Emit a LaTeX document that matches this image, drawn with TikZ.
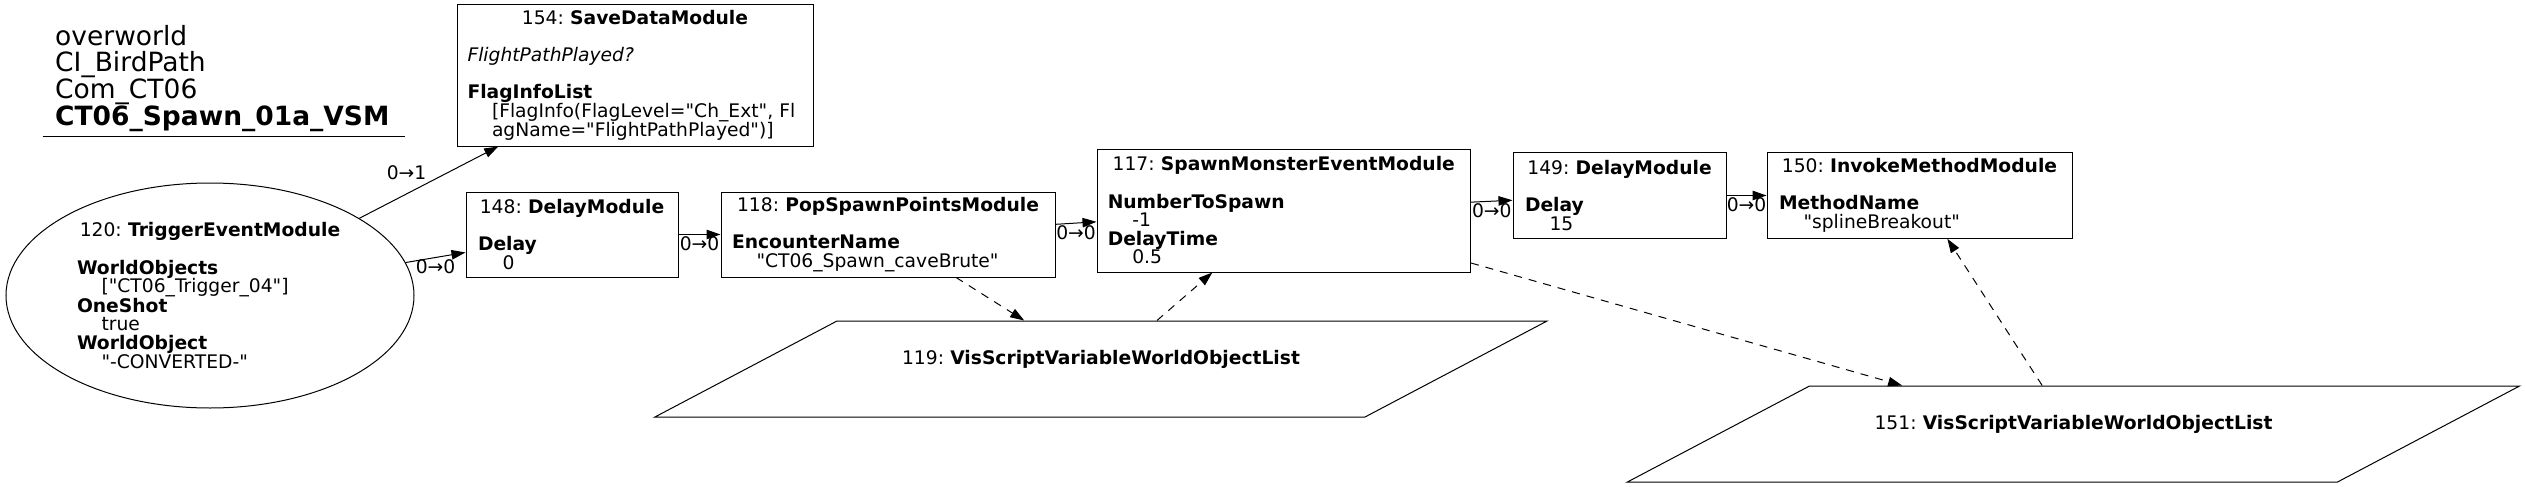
\documentclass[tikz,border=0pt]{standalone}
\usepackage{fontspec}
\setmainfont{DejaVu Sans}[Ligatures=TeXOff]
\usetikzlibrary{arrows.meta,shapes.geometric}
\frenchspacing
\newcommand{\bodyfont}{\fontsize{18.7}{18.6}\selectfont}
\newcommand{\headfont}{\fontsize{26.5}{26.6}\selectfont}
\newcommand{\vindent}{\hspace*{24.5pt}}
\newcommand{\boxtitle}[2]{\makebox[\hsize]{#1: \textbf{#2}}}

\begin{document}
\begin{tikzpicture}[x=1pt,y=-1pt,
    module/.style={draw,line width=1pt,rectangle,inner sep=0pt,align=left,font=\bodyfont},
    varlist/.style={draw,line width=1pt,trapezium,trapezium left angle=27.8,trapezium right angle=152.2,
      inner xsep=0pt,inner ysep=29.5pt,text width=528pt,text height=14pt,text depth=23pt,align=center,font=\bodyfont},
    flow/.style={line width=1pt,-{Triangle[length=14pt,width=9.5pt]}},
    dep/.style={flow,dash pattern=on 8pt off 7pt},
    edgelbl/.style={font=\bodyfont,inner sep=2pt}]
  \useasboundingbox (0,0) rectangle (2525,487);

  % graph title
  \node[anchor=north west,inner sep=0pt,text width=350pt,align=left,font=\headfont] (title) at (55,24.9)
    {overworld\\CI\_BirdPath\\Com\_CT06\\\textbf{CT06\_Spawn\_01a\_VSM}};
  \draw[line width=1pt] (42.7,136.7) -- (405,136.7);

  % trigger
  \node[ellipse,draw,line width=1pt,inner sep=0pt,minimum width=408pt,minimum height=225pt,
        text width=266pt,align=left,font=\bodyfont] (t120) at (210,295.5)
    {\boxtitle{120}{TriggerEventModule}\\[18.6pt]
     \textbf{WorldObjects}\\
     \vindent["CT06\_Trigger\_04"]\\
     \textbf{OneShot}\\
     \vindent true\\
     \textbf{WorldObject}\\
     \vindent"-CONVERTED-"};

  % modules
  \node[module,minimum width=356pt,minimum height=141pt,text width=335pt] (m154) at (635,75.5)
    {\boxtitle{154}{SaveDataModule}\\[18.6pt]
     \textit{FlightPathPlayed?}\\[18.6pt]
     \textbf{FlagInfoList}\\
     \vindent[FlagInfo(FlagLevel="Ch\_Ext",~Fl\\
     \vindent agName="FlightPathPlayed")]};
  \node[module,minimum width=212pt,minimum height=85pt,text width=188pt] (m148) at (572,234.5)
    {\boxtitle{148}{DelayModule}\\[18.6pt]
     \textbf{Delay}\\
     \vindent 0};
  \node[module,minimum width=334pt,minimum height=85pt,text width=312pt] (m118) at (888,234.5)
    {\boxtitle{118}{PopSpawnPointsModule}\\[18.6pt]
     \textbf{EncounterName}\\
     \vindent"CT06\_Spawn\_caveBrute"};
  \node[module,minimum width=373.5pt,minimum height=123pt,text width=352pt] (m117) at (1283.75,210.5)
    {\boxtitle{117}{SpawnMonsterEventModule}\\[18.6pt]
     \textbf{NumberToSpawn}\\
     \vindent -1\\
     \textbf{DelayTime}\\
     \vindent 0.5};
  \node[module,minimum width=213pt,minimum height=85.6pt,text width=189pt] (m149) at (1619.5,195.5)
    {\boxtitle{149}{DelayModule}\\[18.6pt]
     \textbf{Delay}\\
     \vindent 15};
  \node[module,minimum width=305pt,minimum height=85.6pt,text width=281pt] (m150) at (1919.5,195.5)
    {\boxtitle{150}{InvokeMethodModule}\\[18.6pt]
     \textbf{MethodName}\\
     \vindent"splineBreakout"};

  % variables
  \node[varlist] (v119) at (1101,369) {119: \textbf{VisScriptVariableWorldObjectList}};
  \node[varlist] (v151) at (2073.5,434) {151: \textbf{VisScriptVariableWorldObjectList}};

  % links
  \draw[flow] (t120) -- node[edgelbl,above left]{0→1} (m154);
  \draw[flow] (t120) -- node[edgelbl,below]{0→0} (m148);
  \draw[flow] (m148) -- node[edgelbl,below]{0→0} (m118);
  \draw[flow] (m118) -- node[edgelbl,below]{0→0} (m117);
  \draw[flow] (m117) -- node[edgelbl,below]{0→0} (m149);
  \draw[flow] (m149) -- node[edgelbl,below]{0→0} (m150);
  \draw[dep] (m118) -- (v119);
  \draw[dep] (v119) -- (m117);
  \draw[dep] (m117) -- (v151);
  \draw[dep] (v151) -- (m150);
\end{tikzpicture}
\end{document}
